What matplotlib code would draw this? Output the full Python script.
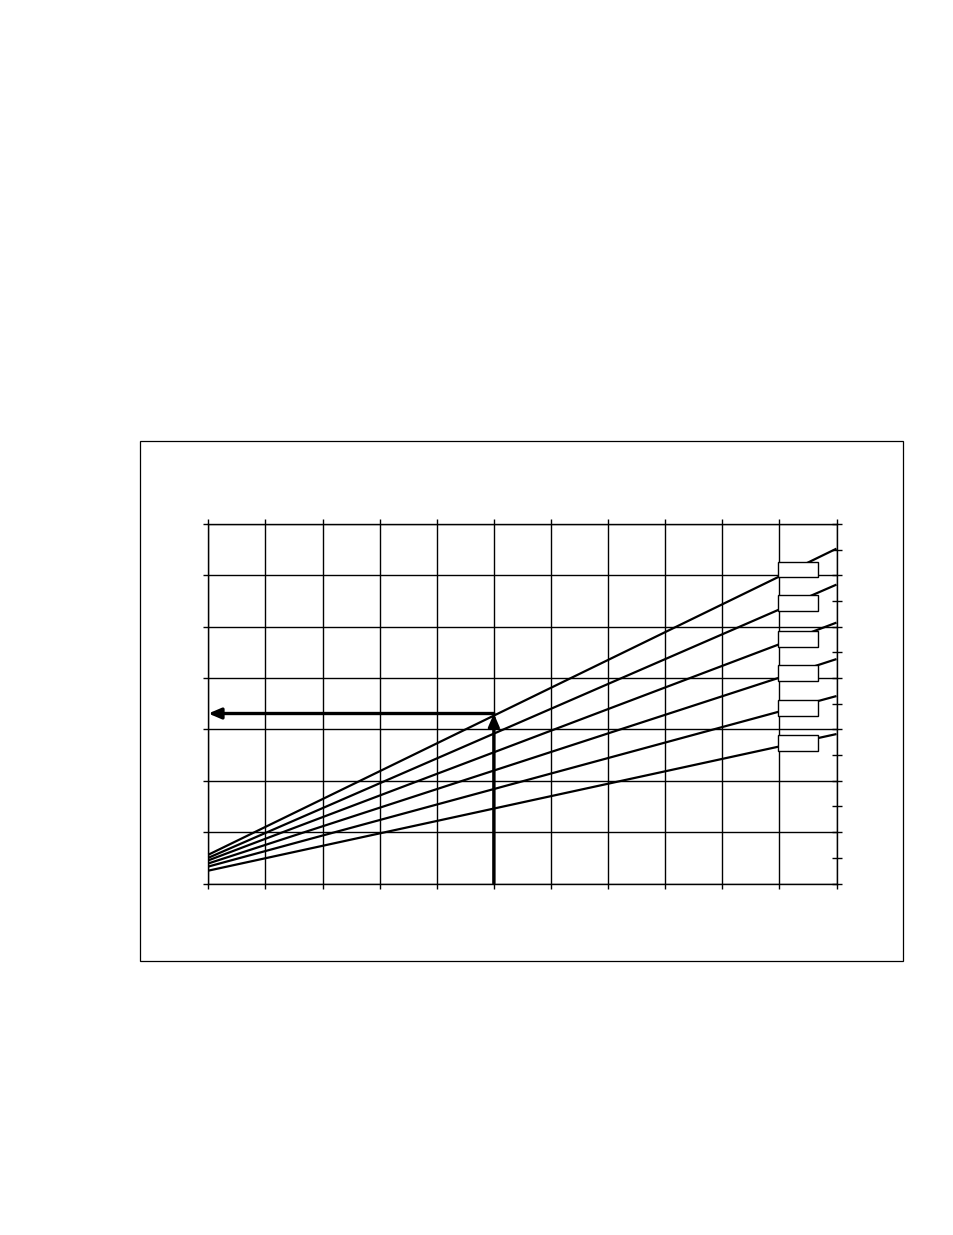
import numpy as np
import matplotlib
matplotlib.use("Agg")
import matplotlib.pyplot as plt
from matplotlib.patches import Rectangle

# line end points (x = 0 and x = 11)
line_x = [0, 11]
line_start = [0.56, 0.50, 0.45, 0.39, 0.33, 0.25]
line_end = [6.52, 5.82, 5.08, 4.37, 3.65, 2.91]

x_max = 11
y_max = 7

# reading example shown with the arrows
read_x = 5
read_y = 3.31

# where the empty label boxes sit along the lines
label_x = 9.97
label_w = 0.71
label_h = 0.31
label_anchor = 10.25

fig = plt.figure(figsize=(9.54, 12.35), dpi=100)

# outer frame around the chart
fig.patches.append(Rectangle((140 / 954, 1 - 961 / 1235), 763 / 954, 520 / 1235,
                             transform=fig.transFigure, fill=False,
                             edgecolor="black", linewidth=0.9))

ax = fig.add_axes([208.3 / 954, 1 - 883.5 / 1235, 628.2 / 954, 359.5 / 1235])
ax.set_xlim(0, x_max)
ax.set_ylim(0, y_max)

ax.set_xticks(np.arange(0, x_max + 1, 1))
ax.set_yticks(np.arange(0, y_max + 1, 1))
ax.grid(True, color="black", linewidth=1.0)
ax.set_axisbelow(True)
ax.tick_params(axis="x", direction="out", length=3.5, width=1.0, top=True,
               labelbottom=False, labeltop=False)
ax.tick_params(axis="y", direction="out", length=3.8, width=1.0, right=False,
               labelleft=False)
for s in ax.spines.values():
    s.set_linewidth(1.0)

# right side: ticks every half unit crossing the axis
ax2 = ax.twinx()
ax2.set_ylim(0, y_max)
ax2.set_yticks(np.arange(0, y_max + 0.01, 0.5))
ax2.tick_params(axis="y", direction="inout", length=7.5, width=1.0, labelright=False)
for s in ax2.spines.values():
    s.set_visible(False)

for y0, y1 in zip(line_start, line_end):
    ax.plot(line_x, [y0, y1], color="black", linewidth=1.6, solid_capstyle="butt",
            clip_on=False, zorder=3)
    # empty label box centred on the line
    yc = np.interp(label_anchor, line_x, [y0, y1])
    ax.add_patch(Rectangle((label_x, yc - label_h / 2), label_w, label_h,
                           facecolor="white", edgecolor="black", linewidth=1.0, zorder=4))

arrow = dict(arrowstyle="-|>,head_length=0.75,head_width=0.32", color="black",
             linewidth=2.4, shrinkA=0, shrinkB=0)
ax.annotate("", xy=(read_x, read_y), xytext=(read_x, 0), arrowprops=arrow, zorder=5)
ax.annotate("", xy=(0, read_y), xytext=(read_x, read_y), arrowprops=arrow, zorder=5)

fig.savefig("out.png", dpi=100)
